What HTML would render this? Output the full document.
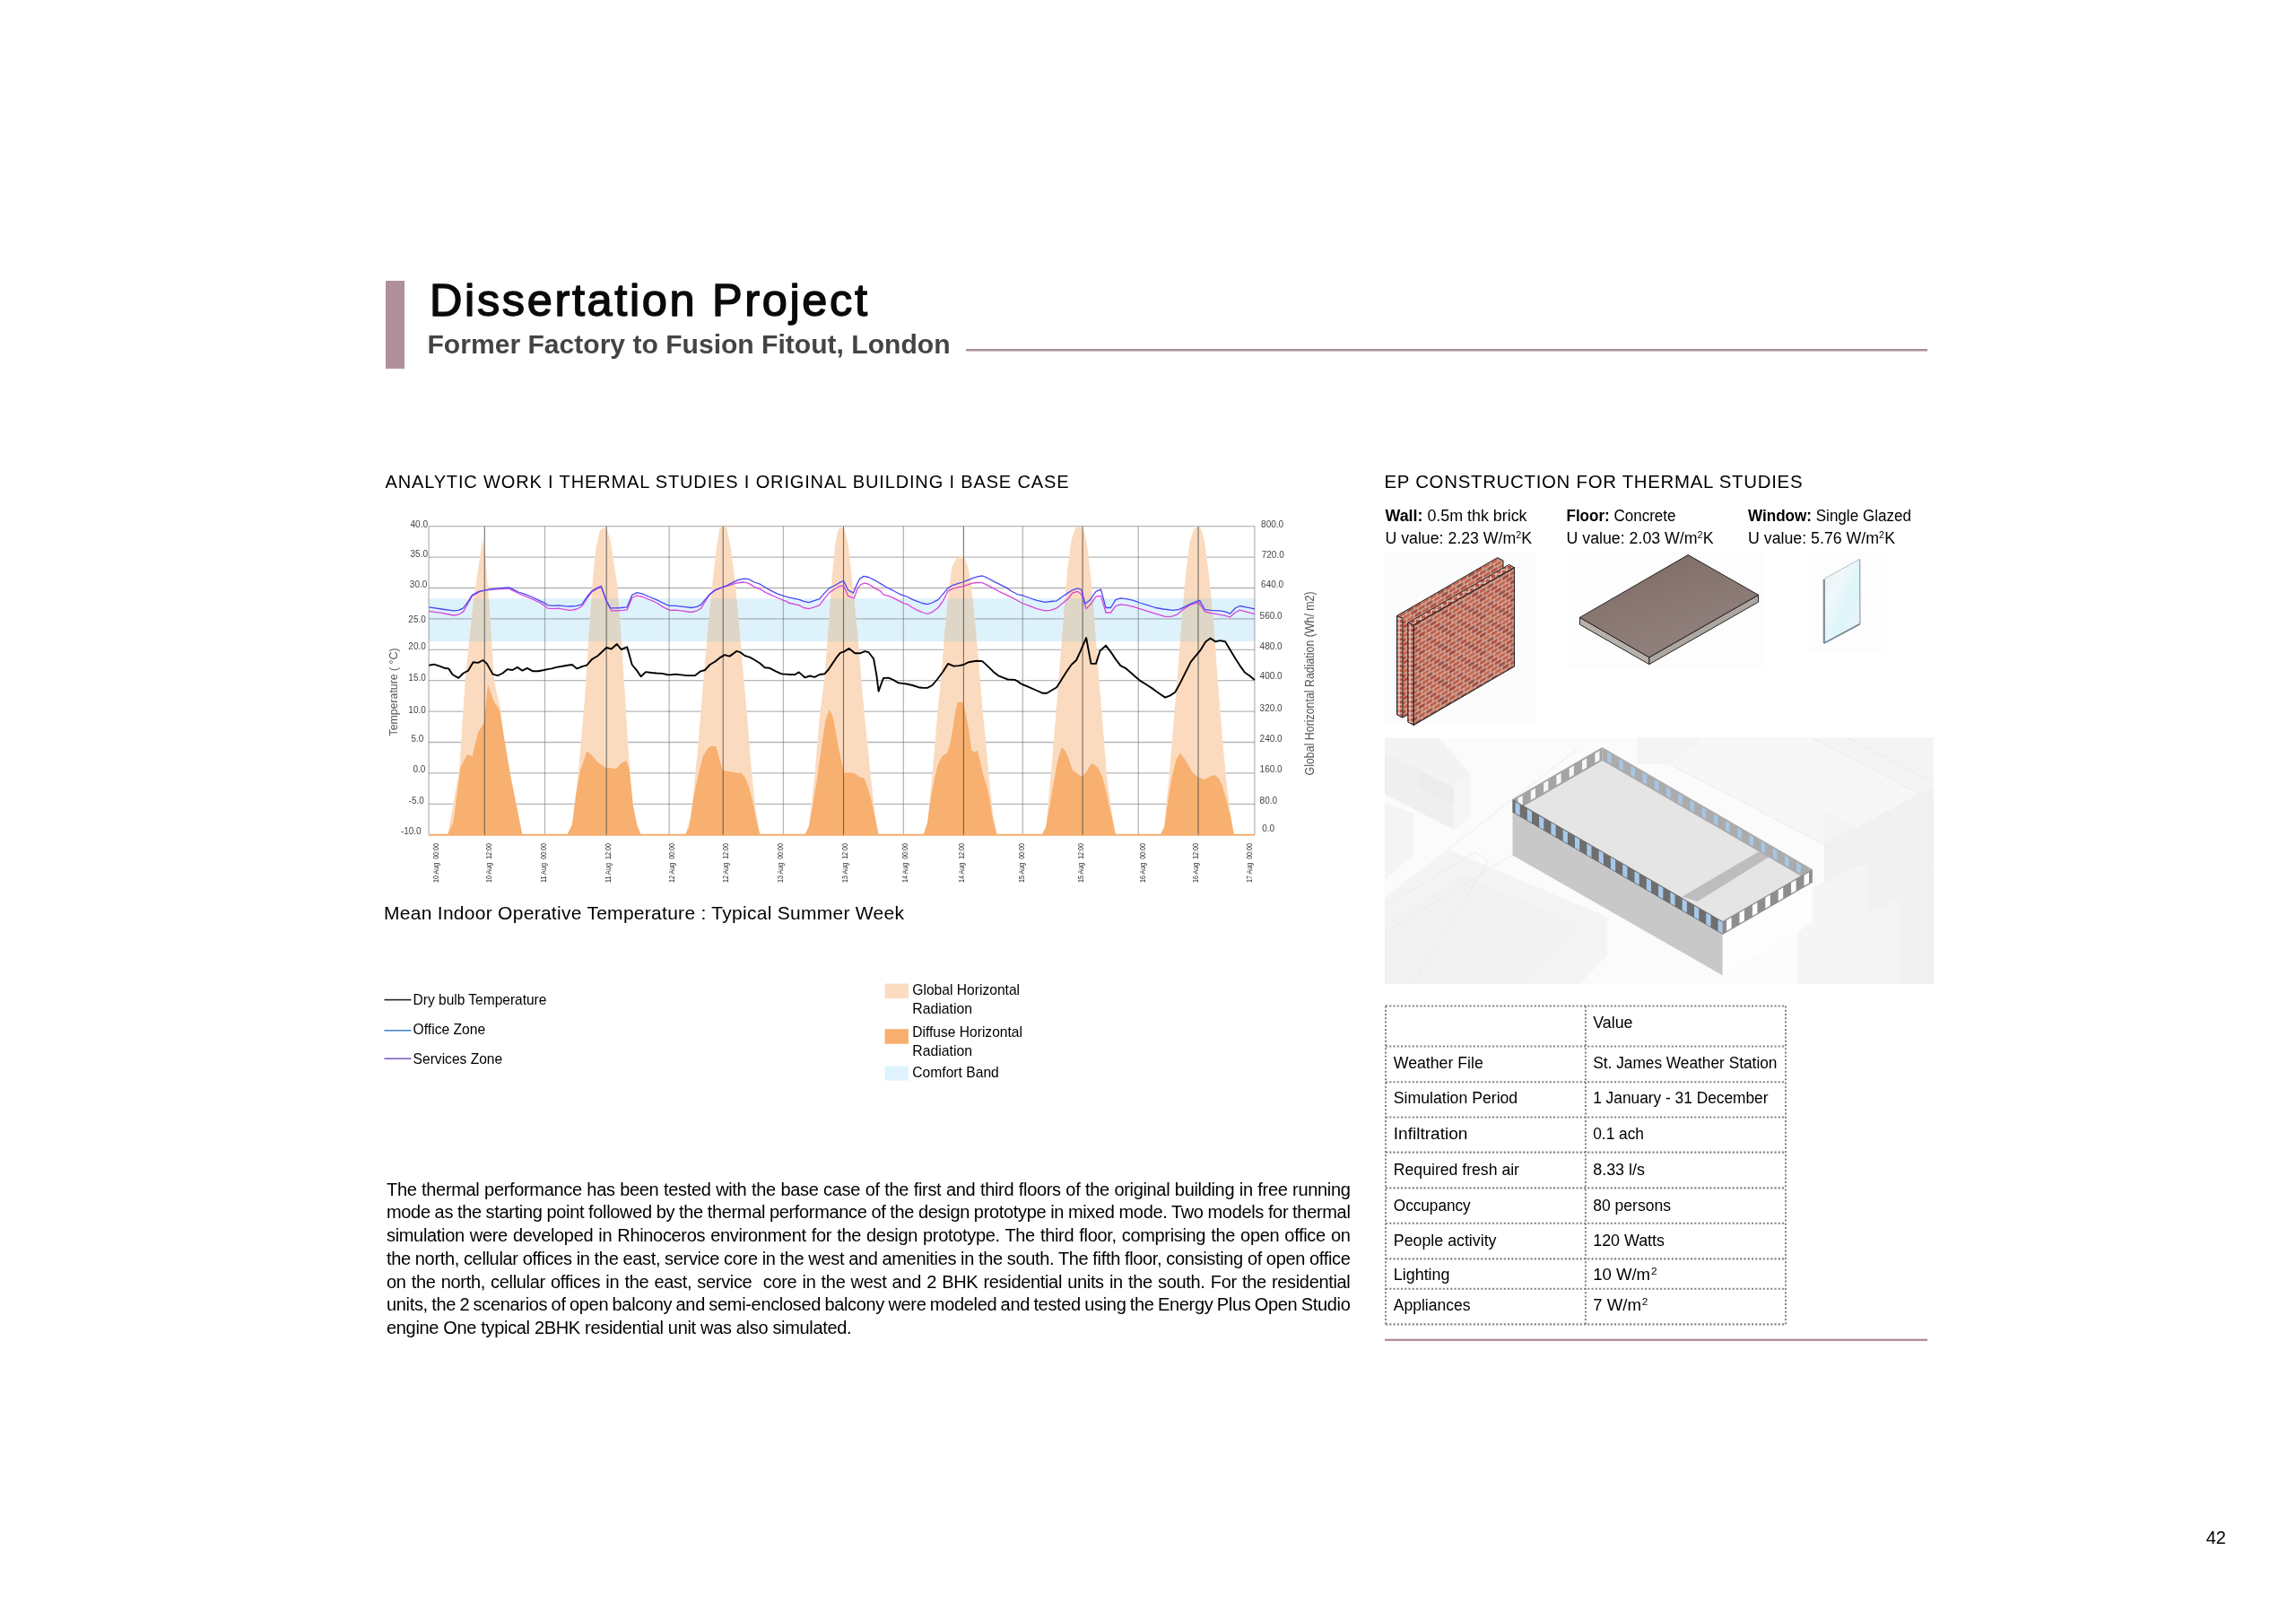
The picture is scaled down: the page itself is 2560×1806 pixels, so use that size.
<!DOCTYPE html>
<html><head><meta charset="utf-8"><title>Dissertation Project</title>
<style>
html,body{margin:0;padding:0;background:#fff;}
body{width:2560px;height:1806px;position:relative;overflow:hidden;font-family:"Liberation Sans",sans-serif;}
svg{position:absolute;left:0;top:0;will-change:transform;}
svg text{font-family:"Liberation Sans",sans-serif;}
.pl{will-change:transform;position:absolute;left:430.5px;width:1074.5px;font-size:20px;line-height:23px;height:23px;color:#000;white-space:nowrap;text-align:justify;text-align-last:justify;letter-spacing:-0.33px;}
.pl.last{text-align-last:left;}
</style></head>
<body>
<svg width="2560" height="1806" viewBox="0 0 2560 1806">
<rect x="430" y="313" width="21" height="98" fill="#B0909D"/>
<text x="479" y="352.3" font-size="50.5" fill="#0a0a0a" stroke="#0a0a0a" stroke-width="1.5" stroke-linejoin="round" textLength="488" lengthAdjust="spacing">Dissertation Project</text>
<text x="476.5" y="394.3" font-size="29" fill="#444" font-weight="bold" textLength="583" lengthAdjust="spacingAndGlyphs" >Former Factory to Fusion Fitout, London</text>
<rect x="1077" y="389" width="1072" height="2.5" fill="#A8909A"/>
<text x="429.5" y="544" font-size="20" fill="#000" textLength="762" lengthAdjust="spacing" >ANALYTIC WORK I THERMAL STUDIES I ORIGINAL BUILDING I BASE CASE</text>
<text x="1543.5" y="544.3" font-size="20.4" fill="#000" textLength="466" lengthAdjust="spacing" >EP CONSTRUCTION FOR THERMAL STUDIES</text>
<text x="1544.5" y="580.8" font-size="18" fill="#000" textLength="158.0" lengthAdjust="spacingAndGlyphs"><tspan font-weight="bold">Wall:</tspan> 0.5m thk brick</text>
<text x="1746.5" y="580.8" font-size="18" fill="#000" textLength="122.0" lengthAdjust="spacingAndGlyphs"><tspan font-weight="bold">Floor:</tspan> Concrete</text>
<text x="1949" y="580.8" font-size="18" fill="#000" textLength="182" lengthAdjust="spacingAndGlyphs"><tspan font-weight="bold">Window:</tspan> Single Glazed</text>
<text x="1544.5" y="606" font-size="18" fill="#000" textLength="163.5" lengthAdjust="spacingAndGlyphs">U value: 2.23 W/m<tspan font-size="11" dy="-6">2</tspan><tspan dy="6">K</tspan></text>
<text x="1746.5" y="606" font-size="18" fill="#000" textLength="164.0" lengthAdjust="spacingAndGlyphs">U value: 2.03 W/m<tspan font-size="11" dy="-6">2</tspan><tspan dy="6">K</tspan></text>
<text x="1949" y="606" font-size="18" fill="#000" textLength="164" lengthAdjust="spacingAndGlyphs">U value: 5.76 W/m<tspan font-size="11" dy="-6">2</tspan><tspan dy="6">K</tspan></text>
<defs>
<clipPath id="peachclip"><polygon points="499.1,930.6 512.2,858.3 518.8,755.3 528.2,667.6 534.6,623.8 538.5,600.8 540.7,615.1 545.1,667.6 550.6,755.3 553.9,772.8 558.3,790.3 561.5,821.0 569.2,864.8 575.8,897.7 582.4,930.6"/><polygon points="632.4,930.6 637.9,919.6 645.5,853.9 652.1,777.2 656.5,711.5 660.9,645.7 664.2,612.9 668.5,592.1 672.9,588.8 676.2,588.8 680.6,601.9 683.9,623.8 688.3,652.3 692.6,711.5 697.0,777.2 701.4,847.3 705.8,897.7 710.2,919.6 714.6,930.6"/><polygon points="764.1,930.6 770.7,908.7 778.3,832.0 784.9,750.9 789.3,700.5 794.8,645.7 799.2,608.5 802.4,588.8 805.7,586.6 810.1,587.7 814.5,608.5 818.9,641.3 823.3,689.6 827.6,737.8 833.1,799.1 837.5,853.9 841.9,897.7 847.4,930.6"/><polygon points="897.4,930.6 901.8,921.8 908.3,864.8 913.8,799.1 919.3,755.3 923.7,700.5 927.4,645.7 931.3,606.3 934.6,589.9 937.9,587.7 941.2,588.8 945.6,606.3 948.9,634.8 953.3,678.6 957.6,722.4 962.0,777.2 966.4,821.0 970.8,864.8 975.2,904.3 979.6,930.6"/><polygon points="1029.6,930.6 1034.0,917.4 1039.4,864.8 1044.9,799.1 1049.3,755.3 1053.7,700.5 1058.1,656.7 1061.3,632.6 1065.7,623.8 1070.1,619.4 1074.5,620.5 1078.9,630.4 1082.2,645.7 1086.5,689.6 1090.9,733.4 1095.3,788.2 1099.7,832.0 1103.0,869.2 1107.4,908.7 1111.7,930.6"/><polygon points="1161.8,930.6 1166.2,921.8 1171.6,864.8 1177.1,799.1 1181.5,744.3 1185.9,689.6 1190.3,634.8 1194.6,601.9 1199.0,588.8 1204.5,586.6 1208.9,592.1 1212.2,608.5 1216.5,645.7 1220.9,700.5 1225.3,755.3 1229.7,810.1 1234.1,864.8 1238.5,897.7 1243.9,930.6"/><polygon points="1293.8,930.6 1298.2,921.8 1303.6,864.8 1309.1,799.1 1313.5,744.3 1317.9,689.6 1322.3,637.0 1326.6,604.1 1331.0,589.9 1336.5,586.6 1339.8,591.0 1343.1,604.1 1346.4,628.2 1349.6,656.7 1354.0,707.1 1358.4,766.2 1362.8,821.0 1367.2,869.2 1371.6,904.3 1375.9,930.6"/></clipPath>
</defs>
<rect x="478.1" y="667.2" width="920.8" height="48.0" fill="#DEF2FC"/>
<g stroke="rgb(95,95,95)" stroke-opacity="0.45" stroke-width="1.3"><line x1="478.1" y1="586.7" x2="1398.9" y2="586.7"/><line x1="478.1" y1="621.1" x2="1398.9" y2="621.1"/><line x1="478.1" y1="655.5" x2="1398.9" y2="655.5"/><line x1="478.1" y1="689.9" x2="1398.9" y2="689.9"/><line x1="478.1" y1="724.3" x2="1398.9" y2="724.3"/><line x1="478.1" y1="758.7" x2="1398.9" y2="758.7"/><line x1="478.1" y1="793.1" x2="1398.9" y2="793.1"/><line x1="478.1" y1="827.5" x2="1398.9" y2="827.5"/><line x1="478.1" y1="861.9" x2="1398.9" y2="861.9"/><line x1="478.1" y1="896.3" x2="1398.9" y2="896.3"/><line x1="478.1" y1="930.7" x2="1398.9" y2="930.7"/><line x1="478.1" y1="586.7" x2="478.1" y2="930.7"/><line x1="607.5" y1="586.7" x2="607.5" y2="930.7"/><line x1="746.1" y1="586.7" x2="746.1" y2="930.7"/><line x1="873.4" y1="586.7" x2="873.4" y2="930.7"/><line x1="1007.3" y1="586.7" x2="1007.3" y2="930.7"/><line x1="1140.3" y1="586.7" x2="1140.3" y2="930.7"/><line x1="1269.2" y1="586.7" x2="1269.2" y2="930.7"/><line x1="1398.9" y1="586.7" x2="1398.9" y2="930.7"/></g>
<polygon points="499.1,930.6 512.2,858.3 518.8,755.3 528.2,667.6 534.6,623.8 538.5,600.8 540.7,615.1 545.1,667.6 550.6,755.3 553.9,772.8 558.3,790.3 561.5,821.0 569.2,864.8 575.8,897.7 582.4,930.6" fill="#FBDBBF"/>
<polygon points="632.4,930.6 637.9,919.6 645.5,853.9 652.1,777.2 656.5,711.5 660.9,645.7 664.2,612.9 668.5,592.1 672.9,588.8 676.2,588.8 680.6,601.9 683.9,623.8 688.3,652.3 692.6,711.5 697.0,777.2 701.4,847.3 705.8,897.7 710.2,919.6 714.6,930.6" fill="#FBDBBF"/>
<polygon points="764.1,930.6 770.7,908.7 778.3,832.0 784.9,750.9 789.3,700.5 794.8,645.7 799.2,608.5 802.4,588.8 805.7,586.6 810.1,587.7 814.5,608.5 818.9,641.3 823.3,689.6 827.6,737.8 833.1,799.1 837.5,853.9 841.9,897.7 847.4,930.6" fill="#FBDBBF"/>
<polygon points="897.4,930.6 901.8,921.8 908.3,864.8 913.8,799.1 919.3,755.3 923.7,700.5 927.4,645.7 931.3,606.3 934.6,589.9 937.9,587.7 941.2,588.8 945.6,606.3 948.9,634.8 953.3,678.6 957.6,722.4 962.0,777.2 966.4,821.0 970.8,864.8 975.2,904.3 979.6,930.6" fill="#FBDBBF"/>
<polygon points="1029.6,930.6 1034.0,917.4 1039.4,864.8 1044.9,799.1 1049.3,755.3 1053.7,700.5 1058.1,656.7 1061.3,632.6 1065.7,623.8 1070.1,619.4 1074.5,620.5 1078.9,630.4 1082.2,645.7 1086.5,689.6 1090.9,733.4 1095.3,788.2 1099.7,832.0 1103.0,869.2 1107.4,908.7 1111.7,930.6" fill="#FBDBBF"/>
<polygon points="1161.8,930.6 1166.2,921.8 1171.6,864.8 1177.1,799.1 1181.5,744.3 1185.9,689.6 1190.3,634.8 1194.6,601.9 1199.0,588.8 1204.5,586.6 1208.9,592.1 1212.2,608.5 1216.5,645.7 1220.9,700.5 1225.3,755.3 1229.7,810.1 1234.1,864.8 1238.5,897.7 1243.9,930.6" fill="#FBDBBF"/>
<polygon points="1293.8,930.6 1298.2,921.8 1303.6,864.8 1309.1,799.1 1313.5,744.3 1317.9,689.6 1322.3,637.0 1326.6,604.1 1331.0,589.9 1336.5,586.6 1339.8,591.0 1343.1,604.1 1346.4,628.2 1349.6,656.7 1354.0,707.1 1358.4,766.2 1362.8,821.0 1367.2,869.2 1371.6,904.3 1375.9,930.6" fill="#FBDBBF"/>
<rect x="478.1" y="667.2" width="920.8" height="48.0" fill="#DED6C6" clip-path="url(#peachclip)"/>
<polygon points="499.1,930.6 505.7,915.2 513.3,856.1 521.0,840.7 526.5,842.9 533.1,816.6 539.6,805.7 544.0,763.0 550.6,781.6 557.2,792.5 562.6,825.4 569.2,864.8 575.8,897.7 582.4,930.6" fill="#F7B070"/>
<polygon points="632.4,930.6 637.9,919.6 642.2,886.7 646.6,860.5 654.3,837.4 659.8,841.8 666.3,849.5 675.1,856.1 680.6,856.1 687.2,857.2 691.5,851.7 698.1,847.7 701.4,856.1 705.8,897.7 710.2,919.6 714.6,930.6" fill="#F7B070"/>
<polygon points="764.1,930.6 768.5,921.8 772.9,891.1 778.3,864.8 783.8,842.9 789.3,834.2 792.6,832.0 798.1,832.0 801.3,842.9 805.7,858.3 810.1,859.4 815.6,860.5 821.1,861.6 826.5,861.6 830.9,867.0 835.3,878.0 839.7,895.5 843.0,913.0 847.4,930.6" fill="#F7B070"/>
<polygon points="897.4,930.6 901.8,921.8 906.2,897.7 911.6,864.8 916.0,832.0 920.4,803.5 924.3,791.4 928.1,796.9 931.3,812.3 934.6,832.0 937.9,847.3 941.2,861.6 945.6,861.6 952.2,861.6 956.5,864.8 959.8,867.0 963.1,867.0 967.5,878.0 971.9,893.3 976.3,915.2 979.6,930.6" fill="#F7B070"/>
<polygon points="1029.6,930.6 1034.0,917.4 1038.3,886.7 1042.7,864.8 1046.0,851.7 1050.4,842.9 1055.9,839.6 1059.2,829.8 1062.4,812.3 1065.7,790.3 1067.9,782.7 1073.4,782.7 1076.7,794.7 1080.0,812.3 1083.3,836.4 1086.5,838.5 1089.8,836.4 1093.1,849.5 1096.4,864.8 1100.8,878.0 1104.1,895.5 1107.4,915.2 1111.7,930.6" fill="#F7B070"/>
<polygon points="1161.8,930.6 1166.2,921.8 1170.5,897.7 1174.9,871.4 1179.3,847.3 1183.7,833.1 1188.1,837.4 1191.3,845.1 1195.7,858.3 1201.2,862.6 1206.7,865.9 1211.1,860.5 1216.5,851.7 1219.8,852.3 1224.2,856.1 1228.6,864.8 1231.9,875.8 1235.2,891.1 1239.6,910.9 1243.9,930.6" fill="#F7B070"/>
<polygon points="1293.8,930.6 1298.2,921.8 1302.5,891.1 1306.9,864.8 1311.3,847.3 1315.7,839.6 1320.1,845.1 1324.4,851.7 1329.9,861.6 1335.4,865.9 1343.1,869.2 1348.5,865.9 1354.0,863.7 1358.4,867.0 1362.8,875.8 1367.2,891.1 1371.6,908.7 1375.9,930.6" fill="#F7B070"/>
<line x1="478.1" y1="930.7" x2="1398.9" y2="930.7" stroke="#F7B070" stroke-width="2"/>
<line x1="540.3" y1="586.7" x2="540.3" y2="930.7" stroke="rgb(70,70,70)" stroke-opacity="0.75" stroke-width="1.1"/>
<line x1="676.2" y1="586.7" x2="676.2" y2="930.7" stroke="rgb(70,70,70)" stroke-opacity="0.75" stroke-width="1.1"/>
<line x1="806.2" y1="586.7" x2="806.2" y2="930.7" stroke="rgb(70,70,70)" stroke-opacity="0.75" stroke-width="1.1"/>
<line x1="940.5" y1="586.7" x2="940.5" y2="930.7" stroke="rgb(70,70,70)" stroke-opacity="0.75" stroke-width="1.1"/>
<line x1="1074.4" y1="586.7" x2="1074.4" y2="930.7" stroke="rgb(70,70,70)" stroke-opacity="0.75" stroke-width="1.1"/>
<line x1="1207.1" y1="586.7" x2="1207.1" y2="930.7" stroke="rgb(70,70,70)" stroke-opacity="0.75" stroke-width="1.1"/>
<line x1="1336.0" y1="586.7" x2="1336.0" y2="930.7" stroke="rgb(70,70,70)" stroke-opacity="0.75" stroke-width="1.1"/>
<polyline points="478.3,681.4 492.5,683.4 505.7,686.0 511.2,685.2 516.6,681.9 521.0,674.2 526.5,664.4 534.2,660.0 540.7,658.0 549.5,657.1 558.3,656.7 567.0,656.0 571.4,658.2 578.0,661.5 584.6,664.4 593.3,667.6 602.1,672.0 608.7,676.4 610.5,678.2 616.0,678.6 622.5,678.2 629.1,679.3 635.7,680.4 643.3,679.0 648.8,676.0 654.3,667.6 659.8,660.0 665.3,656.7 670.3,654.5 676.2,670.9 681.7,680.8 688.3,680.8 694.8,680.4 699.2,679.9 704.7,666.5 710.2,663.9 716.7,665.5 724.4,668.7 732.1,672.0 738.7,676.4 743.3,678.6 746.6,680.4 753.1,680.1 761.9,681.2 770.7,682.5 777.2,680.8 781.6,678.2 786.0,670.9 791.5,662.8 798.1,657.8 805.7,654.9 812.3,653.0 818.9,650.6 824.4,649.5 829.8,649.0 835.3,650.6 840.8,654.1 847.4,656.7 853.9,660.6 860.5,663.7 867.1,666.5 873.7,669.4 876.6,670.1 878.8,672.0 890.8,674.7 896.3,677.5 901.8,678.6 907.2,677.1 913.8,674.7 919.3,667.2 924.8,660.6 930.3,656.7 935.7,653.8 940.6,652.7 945.6,664.4 952.2,667.0 956.5,655.6 959.8,651.6 963.8,650.1 968.6,651.2 975.2,655.6 981.7,658.9 985.0,662.8 990.5,664.4 997.1,667.2 1001.5,669.4 1004.4,670.9 1006.6,672.0 1012.1,673.8 1017.5,677.5 1024.1,680.8 1029.6,683.0 1034.0,684.5 1039.4,682.3 1046.0,677.5 1051.5,669.8 1057.0,658.9 1062.4,656.2 1067.9,654.9 1073.4,653.8 1078.9,651.9 1084.4,650.1 1089.8,649.5 1095.3,649.7 1100.8,652.3 1107.4,655.6 1113.9,659.3 1121.6,662.8 1128.2,666.1 1134.8,669.8 1138.8,672.0 1147.5,675.3 1156.3,678.6 1165.1,680.8 1171.6,680.4 1178.2,677.9 1184.8,672.5 1191.3,667.0 1195.7,661.1 1201.2,659.3 1205.6,662.2 1211.1,678.6 1216.5,673.1 1222.0,665.0 1227.5,664.4 1233.0,683.0 1238.5,683.0 1243.9,675.7 1249.4,673.8 1256.0,674.7 1263.7,676.4 1270.8,678.6 1279.5,681.4 1288.3,684.1 1299.2,687.4 1305.8,687.4 1312.4,685.2 1320.1,678.6 1327.7,674.2 1333.2,672.5 1336.5,671.6 1343.5,681.9 1349.6,683.4 1359.5,685.2 1366.1,686.3 1371.6,687.8 1377.0,683.0 1382.5,680.1 1389.1,681.9 1395.7,683.6 1398.9,684.7" fill="none" stroke="#D646DA" stroke-width="1.3" stroke-linejoin="round"/>
<polyline points="478.3,676.8 492.5,679.0 505.7,680.8 511.2,680.4 516.6,677.9 521.0,672.0 526.5,663.3 534.2,659.3 540.7,657.8 549.5,656.7 558.3,655.6 567.0,654.9 571.4,656.7 578.0,660.0 584.6,662.2 593.3,665.5 602.1,669.8 608.7,673.1 610.5,674.7 616.0,675.3 622.5,674.9 629.1,675.7 635.7,676.0 643.3,675.3 648.8,673.8 654.3,665.5 659.8,658.9 665.3,655.6 670.3,653.4 676.2,669.8 680.6,677.9 686.1,677.9 692.6,677.5 699.2,676.8 704.7,663.3 710.2,660.6 716.7,662.2 724.4,665.5 732.1,668.7 738.7,672.0 743.3,674.2 746.6,675.3 753.1,675.3 761.9,676.4 770.7,677.5 777.2,676.4 781.6,674.2 786.0,668.7 791.5,662.2 798.1,657.1 805.7,654.5 812.3,651.9 818.9,648.4 824.4,646.2 829.8,645.1 835.3,645.7 840.8,649.0 847.4,651.2 853.9,655.2 860.5,658.9 867.1,662.2 873.7,664.4 876.6,665.2 878.8,665.9 890.8,668.3 896.3,670.3 901.8,671.6 907.2,669.8 913.8,667.6 919.3,661.1 924.8,655.6 930.3,653.0 935.7,649.7 940.6,647.5 945.6,657.8 951.5,661.1 955.5,651.2 958.7,645.1 963.1,642.4 968.6,643.5 975.2,646.8 981.7,650.6 988.3,654.5 994.9,657.8 1001.5,661.5 1004.4,662.8 1006.6,663.7 1012.1,665.5 1017.5,668.3 1024.1,670.9 1028.5,672.5 1034.0,673.6 1039.4,672.0 1046.0,668.7 1051.5,662.2 1057.0,655.6 1062.4,652.3 1067.9,650.6 1073.4,649.0 1078.9,646.8 1084.4,644.6 1089.8,642.9 1095.3,642.0 1100.8,644.2 1107.4,647.9 1113.9,651.2 1121.6,654.9 1128.2,659.3 1134.8,662.8 1138.8,663.3 1147.5,666.5 1156.3,669.4 1165.1,671.4 1171.6,670.5 1178.2,669.8 1184.8,665.0 1191.3,660.6 1195.7,657.8 1201.2,655.8 1205.6,657.1 1210.0,673.1 1215.5,668.7 1222.0,659.3 1227.5,657.1 1233.0,677.5 1238.5,677.5 1243.9,668.7 1249.4,666.8 1256.0,667.6 1263.7,669.4 1270.8,672.0 1279.5,674.7 1288.3,677.5 1297.1,679.0 1308.0,680.4 1314.6,679.3 1321.2,676.4 1327.7,673.1 1333.2,670.9 1337.6,669.4 1343.5,679.7 1349.6,680.4 1359.5,680.8 1366.1,681.9 1371.6,684.1 1377.0,678.2 1382.5,675.5 1389.1,676.8 1395.7,678.2 1398.9,679.0" fill="none" stroke="#4848F2" stroke-width="1.3" stroke-linejoin="round"/>
<polyline points="478.3,741.7 483.8,740.6 490.3,742.6 495.8,744.8 500.2,745.4 504.6,752.0 511.2,755.9 516.6,750.5 522.1,747.6 527.6,738.2 533.1,738.9 538.5,736.0 542.9,739.9 549.5,751.6 555.0,753.1 560.5,750.5 565.9,746.1 571.4,747.0 576.9,743.9 582.4,747.6 587.8,744.8 594.4,748.3 599.9,748.3 606.5,747.0 610.5,746.1 614.9,745.4 620.3,743.9 626.9,742.8 632.4,741.7 637.9,741.0 643.3,745.4 648.8,743.2 654.3,741.7 659.8,735.1 666.3,731.2 670.7,727.2 676.2,722.0 681.7,723.5 687.8,718.0 692.6,724.0 699.2,721.3 704.7,741.0 710.2,747.6 714.6,754.2 720.0,749.1 726.6,750.0 732.1,750.5 738.7,750.9 743.3,752.0 746.6,752.4 753.1,751.6 759.7,752.4 766.3,753.1 775.1,753.1 780.5,748.7 786.0,747.0 791.5,741.0 797.0,737.8 802.4,733.4 807.9,730.1 813.4,731.6 817.8,728.6 821.1,725.9 825.5,727.2 830.9,731.2 836.4,732.9 841.9,736.0 847.4,739.5 852.8,744.3 858.3,744.8 864.9,748.3 870.4,750.9 873.7,751.6 876.6,751.6 881.0,752.0 886.4,752.0 890.8,749.4 894.1,752.4 897.4,755.3 902.9,753.5 908.3,754.8 913.8,752.0 919.3,751.3 923.7,746.5 928.1,739.9 932.4,733.4 936.8,727.9 941.2,726.4 946.7,722.9 953.3,728.3 958.7,728.3 964.2,726.1 968.6,727.2 974.1,734.5 977.4,753.1 979.6,770.6 985.0,755.9 990.5,755.7 996.0,757.9 1001.5,761.2 1004.4,761.6 1011.0,762.5 1017.5,764.0 1024.1,766.2 1028.5,766.7 1034.0,766.9 1039.4,764.0 1044.9,757.5 1051.5,748.7 1057.0,739.9 1063.5,742.6 1069.0,742.1 1074.5,741.0 1080.0,738.2 1085.5,737.3 1089.8,736.7 1095.3,737.1 1100.8,742.1 1107.4,748.7 1112.8,753.1 1118.3,755.3 1123.8,757.5 1131.5,757.9 1135.8,760.1 1136.6,761.2 1139.9,763.0 1147.5,766.2 1155.2,769.5 1162.9,772.8 1167.2,772.8 1172.7,769.5 1178.2,766.2 1183.7,757.5 1189.2,748.7 1194.6,741.0 1200.1,736.0 1204.5,726.4 1211.1,711.0 1216.5,739.9 1222.0,739.9 1226.4,725.7 1233.0,719.6 1238.5,726.8 1243.9,734.9 1249.4,742.1 1254.9,744.8 1261.5,750.5 1266.9,755.3 1270.8,758.6 1279.5,764.0 1286.1,768.4 1293.8,773.9 1299.2,777.6 1304.7,775.4 1310.2,771.7 1315.7,761.9 1321.2,750.9 1327.7,737.8 1333.2,731.2 1338.7,724.6 1344.2,715.4 1349.6,711.5 1355.1,715.2 1360.6,714.1 1366.1,715.2 1371.6,724.6 1377.0,733.4 1382.5,742.1 1388.0,749.8 1393.5,753.5 1398.9,757.9" fill="none" stroke="#000" stroke-width="1.9" stroke-linejoin="round"/>
<text x="477.0" y="587.5" font-size="10" fill="#444" text-anchor="end" >40.0</text>
<text x="477.0" y="621.2" font-size="10" fill="#444" text-anchor="end" >35.0</text>
<text x="476.3" y="654.6" font-size="10" fill="#444" text-anchor="end" >30.0</text>
<text x="474.8" y="693.8" font-size="10" fill="#444" text-anchor="end" >25.0</text>
<text x="474.8" y="724.3" font-size="10" fill="#444" text-anchor="end" >20.0</text>
<text x="474.8" y="758.9" font-size="10" fill="#444" text-anchor="end" >15.0</text>
<text x="474.8" y="795.3" font-size="10" fill="#444" text-anchor="end" >10.0</text>
<text x="472.3" y="826.7" font-size="10" fill="#444" text-anchor="end" >5.0</text>
<text x="474.3" y="860.5" font-size="10" fill="#444" text-anchor="end" >0.0</text>
<text x="472.8" y="895.7" font-size="10" fill="#444" text-anchor="end" >-5.0</text>
<text x="469.7" y="930.3" font-size="10" fill="#444" text-anchor="end" >-10.0</text>
<text x="1406.1000000000001" y="587.6" font-size="10" fill="#444" >800.0</text>
<text x="1406.7" y="622.2" font-size="10" fill="#444" >720.0</text>
<text x="1406.1000000000001" y="654.5" font-size="10" fill="#444" >640.0</text>
<text x="1404.6000000000001" y="689.6" font-size="10" fill="#444" >560.0</text>
<text x="1404.6000000000001" y="723.7" font-size="10" fill="#444" >480.0</text>
<text x="1404.6000000000001" y="756.5" font-size="10" fill="#444" >400.0</text>
<text x="1404.6000000000001" y="792.5" font-size="10" fill="#444" >320.0</text>
<text x="1404.6000000000001" y="827" font-size="10" fill="#444" >240.0</text>
<text x="1404.6000000000001" y="861" font-size="10" fill="#444" >160.0</text>
<text x="1404.6000000000001" y="895.5" font-size="10" fill="#444" >80.0</text>
<text x="1407.2" y="927.3" font-size="10" fill="#444" >0.0</text>
<text transform="translate(442.6,820.5) rotate(-90)" font-size="13" fill="#555" textLength="98" lengthAdjust="spacingAndGlyphs">Temperature ( °C)</text>
<text transform="translate(1464.8,864.4) rotate(-90)" font-size="14" fill="#555" textLength="205" lengthAdjust="spacingAndGlyphs">Global Horizontal Radiation (Wh/ m2)</text>
<text transform="translate(488.5,984) rotate(-90)" font-size="9.3" fill="#2a2a2a" style="white-space:pre" textLength="44" lengthAdjust="spacingAndGlyphs">10 Aug  00:00</text>
<text transform="translate(547.6,984) rotate(-90)" font-size="9.3" fill="#2a2a2a" style="white-space:pre" textLength="44" lengthAdjust="spacingAndGlyphs">10 Aug  12:00</text>
<text transform="translate(608.9,984) rotate(-90)" font-size="9.3" fill="#2a2a2a" style="white-space:pre" textLength="44" lengthAdjust="spacingAndGlyphs">11 Aug  00:00</text>
<text transform="translate(681.0,984) rotate(-90)" font-size="9.3" fill="#2a2a2a" style="white-space:pre" textLength="44" lengthAdjust="spacingAndGlyphs">11 Aug  12:00</text>
<text transform="translate(751.5,984) rotate(-90)" font-size="9.3" fill="#2a2a2a" style="white-space:pre" textLength="44" lengthAdjust="spacingAndGlyphs">12 Aug  00:00</text>
<text transform="translate(812.1,984) rotate(-90)" font-size="9.3" fill="#2a2a2a" style="white-space:pre" textLength="44" lengthAdjust="spacingAndGlyphs">12 Aug  12:00</text>
<text transform="translate(872.7,984) rotate(-90)" font-size="9.3" fill="#2a2a2a" style="white-space:pre" textLength="44" lengthAdjust="spacingAndGlyphs">13 Aug  00:00</text>
<text transform="translate(944.9,984) rotate(-90)" font-size="9.3" fill="#2a2a2a" style="white-space:pre" textLength="44" lengthAdjust="spacingAndGlyphs">13 Aug  12:00</text>
<text transform="translate(1012.4,984) rotate(-90)" font-size="9.3" fill="#2a2a2a" style="white-space:pre" textLength="44" lengthAdjust="spacingAndGlyphs">14 Aug  00:00</text>
<text transform="translate(1075.1,984) rotate(-90)" font-size="9.3" fill="#2a2a2a" style="white-space:pre" textLength="44" lengthAdjust="spacingAndGlyphs">14 Aug  12:00</text>
<text transform="translate(1142.0,984) rotate(-90)" font-size="9.3" fill="#2a2a2a" style="white-space:pre" textLength="44" lengthAdjust="spacingAndGlyphs">15 Aug  00:00</text>
<text transform="translate(1207.9,984) rotate(-90)" font-size="9.3" fill="#2a2a2a" style="white-space:pre" textLength="44" lengthAdjust="spacingAndGlyphs">15 Aug  12:00</text>
<text transform="translate(1276.9,984) rotate(-90)" font-size="9.3" fill="#2a2a2a" style="white-space:pre" textLength="44" lengthAdjust="spacingAndGlyphs">16 Aug  00:00</text>
<text transform="translate(1336.4,984) rotate(-90)" font-size="9.3" fill="#2a2a2a" style="white-space:pre" textLength="44" lengthAdjust="spacingAndGlyphs">16 Aug  12:00</text>
<text transform="translate(1396.0,984) rotate(-90)" font-size="9.3" fill="#2a2a2a" style="white-space:pre" textLength="44" lengthAdjust="spacingAndGlyphs">17 Aug  00:00</text>
<text x="428" y="1024.6" font-size="21" fill="#000" textLength="580" lengthAdjust="spacing" >Mean Indoor Operative Temperature : Typical Summer Week</text>
<line x1="428.5" y1="1114.6" x2="458.5" y2="1114.6" stroke="#222" stroke-width="1.6"/>
<text x="460.6" y="1120" font-size="17" fill="#000" textLength="148.8" lengthAdjust="spacingAndGlyphs" >Dry bulb Temperature</text>
<line x1="428.5" y1="1148.8" x2="458.5" y2="1148.8" stroke="#4A88D0" stroke-width="1.6"/>
<text x="460.6" y="1153.1" font-size="17" fill="#000" textLength="80.6" lengthAdjust="spacingAndGlyphs" >Office Zone</text>
<line x1="428.5" y1="1180.2" x2="458.5" y2="1180.2" stroke="#8060C0" stroke-width="1.6"/>
<text x="460.6" y="1186" font-size="17" fill="#000" textLength="99.6" lengthAdjust="spacingAndGlyphs" >Services Zone</text>
<rect x="986.6" y="1096.6" width="26.3" height="16.5" fill="#FCDCC0"/>
<rect x="986.6" y="1147.2" width="26.3" height="16.5" fill="#F8AE6E"/>
<rect x="986.6" y="1188.5" width="26.3" height="16.1" fill="#DEF3FD"/>
<text x="1017.3" y="1109.1" font-size="17" fill="#000" textLength="119.8" lengthAdjust="spacingAndGlyphs" >Global Horizontal</text>
<text x="1017.3" y="1130" font-size="17" fill="#000" textLength="66.8" lengthAdjust="spacingAndGlyphs" >Radiation</text>
<text x="1017.3" y="1156" font-size="17" fill="#000" textLength="122.6" lengthAdjust="spacingAndGlyphs" >Diffuse Horizontal</text>
<text x="1017.3" y="1176.9" font-size="17" fill="#000" textLength="66.8" lengthAdjust="spacingAndGlyphs" >Radiation</text>
<text x="1017.3" y="1201.4" font-size="17" fill="#000" textLength="96.5" lengthAdjust="spacingAndGlyphs" >Comfort Band</text>
<text x="2459.7" y="1720.8" font-size="20" fill="#000" >42</text>
<rect x="1544" y="1492.6" width="605" height="2.3" fill="#B08A98"/>
<defs>
<pattern id="brick" patternUnits="userSpaceOnUse" width="34" height="20" patternTransform="skewY(-30)">
<rect width="34" height="20" fill="#DAD2CC"/>
<rect x="0.5" y="0.5" width="7.6" height="4.0" fill="#B24D3D"/>
<rect x="9" y="0.5" width="7.6" height="4.0" fill="#C4644C"/>
<rect x="17.5" y="0.5" width="7.6" height="4.0" fill="#A5493C"/>
<rect x="26" y="0.5" width="7.6" height="4.0" fill="#BB5A45"/>
<rect x="-3.75" y="5.5" width="7.6" height="4.0" fill="#C06049"/>
<rect x="4.75" y="5.5" width="7.6" height="4.0" fill="#9C5347"/>
<rect x="13.25" y="5.5" width="7.6" height="4.0" fill="#B8533F"/>
<rect x="21.75" y="5.5" width="7.6" height="4.0" fill="#C96A50"/>
<rect x="30.25" y="5.5" width="7.6" height="4.0" fill="#C06049"/>
<rect x="0.5" y="10.5" width="7.6" height="4.0" fill="#C3634B"/>
<rect x="9" y="10.5" width="7.6" height="4.0" fill="#A94B3D"/>
<rect x="17.5" y="10.5" width="7.6" height="4.0" fill="#B95C46"/>
<rect x="26" y="10.5" width="7.6" height="4.0" fill="#A0574A"/>
<rect x="-3.75" y="15.5" width="7.6" height="4.0" fill="#B4503F"/>
<rect x="4.75" y="15.5" width="7.6" height="4.0" fill="#C66750"/>
<rect x="13.25" y="15.5" width="7.6" height="4.0" fill="#AE4E3E"/>
<rect x="21.75" y="15.5" width="7.6" height="4.0" fill="#BD5E48"/>
<rect x="30.25" y="15.5" width="7.6" height="4.0" fill="#B4503F"/>
</pattern>
<pattern id="brick2" patternUnits="userSpaceOnUse" width="6" height="10">
<rect width="6" height="10" fill="#E2D9D2"/>
<rect x="0.6" y="0.6" width="4.8" height="3.9" fill="#B94E3E"/>
<rect x="0.6" y="5.6" width="4.8" height="3.9" fill="#C45C47"/>
</pattern>
<linearGradient id="slabg" x1="0.2" y1="0" x2="0.7" y2="1">
<stop offset="0" stop-color="#7E6A64"/><stop offset="0.45" stop-color="#897772"/><stop offset="1" stop-color="#92827D"/>
</linearGradient>
<linearGradient id="glass" x1="0" y1="0" x2="1" y2="1">
<stop offset="0" stop-color="#E4EAEE"/><stop offset="0.3" stop-color="#F2F8FA"/><stop offset="0.6" stop-color="#DDF5F9"/><stop offset="1" stop-color="#F0F2F8"/>
</linearGradient>
</defs>
<rect x="1544" y="615" width="168" height="193" fill="#FCFCFD"/>
<polygon points="1557.5,686.5 1669.6,621.7 1676.0,624.9 1676.0,735.0 1564.0,800.0 1557.5,796.6" fill="url(#brick)" stroke="#222" stroke-width="1.0"/>
<polygon points="1557.5,686.5 1564.0,689.0 1564.0,800.0 1557.5,796.6" fill="url(#brick2)" stroke="#222" stroke-width="1.0"/>
<polygon points="1569.8,694.3 1682.6,629.4 1688.4,632.7 1576.3,696.8" fill="url(#brick2)" stroke="#222" stroke-width="1.0"/>
<polygon points="1569.8,694.3 1576.3,696.8 1576.3,808.3 1569.8,805.0" fill="url(#brick2)" stroke="#222" stroke-width="1.0"/>
<polygon points="1576.3,696.8 1688.4,632.7 1688.4,742.9 1576.3,808.3" fill="url(#brick)" stroke="#222" stroke-width="1.1"/>
<rect x="1749" y="614" width="219" height="132" fill="#FDFDFE"/>
<polygon points="1761.4,688.4 1838.8,732.8 1838.8,740.6 1761.4,696.2" fill="#B8B0AA" stroke="#222" stroke-width="1.0"/>
<polygon points="1838.8,732.8 1960.6,663.3 1960.6,671.1 1838.8,740.6" fill="#AEA6A0" stroke="#222" stroke-width="1.0"/>
<polygon points="1761.4,688.4 1882.2,618.6 1960.6,663.3 1838.8,732.8" fill="url(#slabg)" stroke="#222" stroke-width="1.0"/>
<rect x="2016" y="616" width="88" height="110" fill="#FDFDFE"/>
<polygon points="2033.3,645.3 2073.5,623.2 2073.9,695.9 2033.3,717.5" fill="url(#glass)"/>
<line x1="2033.6" y1="645.4" x2="2073.5" y2="623.3" stroke="#B4C0C8" stroke-width="1"/>
<line x1="2073.6" y1="623.5" x2="2073.9" y2="695.6" stroke="#97A5B0" stroke-width="1.3"/>
<line x1="2033.8" y1="646" x2="2033.8" y2="717" stroke="#7E8C98" stroke-width="2.2"/>
<line x1="2033.5" y1="717.2" x2="2073.8" y2="695.6" stroke="#7E8C98" stroke-width="1.8"/>
<rect x="1544" y="822.5" width="612" height="274.5" fill="#FBFBFB"/>
<polygon points="1543.9,823.1 1604.0,823.1 1640.0,863.0 1620.9,877.5 1543.9,839.3" fill="#F3F3F3"/>
<polygon points="1543.9,839.3 1620.9,877.5 1620.9,924.7 1543.9,885.4" fill="#EFEFEF"/>
<polygon points="1620.9,877.5 1640.0,863.0 1640.0,910.1 1620.9,924.7" fill="#F6F6F6"/>
<polygon points="1582.0,860.0 1620.9,877.5 1620.9,896.0 1582.0,878.0" fill="#ECECEC"/>
<polygon points="1543.9,894.4 1576.0,906.8 1576.0,952.8 1543.9,980.9" fill="#F4F4F4"/>
<polygon points="1544.0,1000.0 1614.0,947.0 1792.0,1022.0 1792.0,1065.0 1761.0,1097.0 1544.0,1097.0" fill="#F4F4F4"/>
<polygon points="1544.0,1030.0 1630.0,975.0 1760.0,1030.0 1700.0,1097.0 1544.0,1097.0" fill="#F2F2F2"/>
<polygon points="1825.5,822.5 2155.8,822.5 2155.8,1097.0 2082.0,1097.0 2082.0,1078.0 2004.0,1041.0 2004.0,1000.0 2034.0,983.0 2034.0,941.0 1862.0,852.0 1825.5,852.0" fill="#F4F4F4"/>
<polygon points="1900.0,822.5 2020.0,822.5 2155.8,893.0 2155.8,965.0 2034.0,903.0 2034.0,941.0 1862.0,852.0" fill="#F7F7F7"/>
<polygon points="2034.0,941.0 2155.8,877.0 2155.8,1097.0 2120.0,1097.0 2120.0,1000.0 2034.0,1045.0" fill="#F1F1F1"/>
<polygon points="2004.0,1000.0 2082.0,960.0 2082.0,1097.0 2004.0,1097.0" fill="#F5F5F5"/>
<g stroke="#E9E9E9" stroke-width="0.8" fill="none"><polyline points="1613.0,948.0 1760.0,834.0"/><polyline points="1544.0,1010.0 1645.0,950.0 1660.0,960.0 1575.0,1097.0"/><polyline points="1544.0,1040.0 1686.0,953.0"/><polyline points="1862.0,852.0 2155.8,1005.0"/><polyline points="2020.0,822.5 2155.8,893.0"/><polyline points="2060.0,822.5 2155.8,872.0"/></g>
<polygon points="1920.6,1042.0 2020.6,984.0 2020.6,1029.0 1920.6,1087.4" fill="#FDFDFD"/>
<polygon points="1686.5,906.0 1786.5,848.0 2020.6,984.0 1920.6,1042.0" fill="#E5E5E5"/>
<polygon points="1875.6,999.5 1892.4,1005.1 1973.2,955.0 1960.7,949.4" fill="#BDBDBD"/>
<polygon points="1686.5,891.0 1786.5,833.0 1786.5,848.0 1686.5,906.0" fill="#A4A4A4"/>
<polygon points="1692.5,889.7 1697.7,886.7 1697.7,897.2 1692.5,900.2" fill="#F4F8FA"/><polygon points="1706.8,881.4 1712.0,878.4 1712.0,888.9 1706.8,891.9" fill="#F4F8FA"/><polygon points="1721.1,873.1 1726.3,870.1 1726.3,880.6 1721.1,883.6" fill="#F4F8FA"/><polygon points="1735.4,864.8 1740.6,861.8 1740.6,872.3 1735.4,875.3" fill="#F4F8FA"/><polygon points="1749.7,856.5 1754.9,853.5 1754.9,864.0 1749.7,867.0" fill="#F4F8FA"/><polygon points="1764.0,848.2 1769.2,845.2 1769.2,855.7 1764.0,858.8" fill="#F4F8FA"/><polygon points="1778.3,840.0 1783.5,836.9 1783.5,847.4 1778.3,850.5" fill="#F4F8FA"/>
<polygon points="1786.5,833.0 2020.6,969.0 2020.6,984.0 1786.5,848.0" fill="#ABABAB"/>
<polygon points="1792.0,838.4 1796.6,841.1 1796.6,851.6 1792.0,848.9" fill="#A6C6E6"/><polygon points="1805.2,846.1 1809.8,848.7 1809.8,859.2 1805.2,856.6" fill="#A6C6E6"/><polygon points="1818.4,853.7 1823.0,856.4 1823.0,866.9 1818.4,864.2" fill="#A6C6E6"/><polygon points="1831.6,861.4 1836.2,864.1 1836.2,874.6 1831.6,871.9" fill="#A6C6E6"/><polygon points="1844.8,869.1 1849.4,871.7 1849.4,882.2 1844.8,879.6" fill="#A6C6E6"/><polygon points="1858.0,876.7 1862.6,879.4 1862.6,889.9 1858.0,887.2" fill="#A6C6E6"/><polygon points="1871.2,884.4 1875.8,887.1 1875.8,897.6 1871.2,894.9" fill="#A6C6E6"/><polygon points="1884.4,892.1 1889.0,894.7 1889.0,905.2 1884.4,902.6" fill="#A6C6E6"/><polygon points="1897.6,899.7 1902.2,902.4 1902.2,912.9 1897.6,910.2" fill="#A6C6E6"/><polygon points="1910.8,907.4 1915.4,910.1 1915.4,920.6 1910.8,917.9" fill="#A6C6E6"/><polygon points="1924.0,915.1 1928.6,917.8 1928.6,928.3 1924.0,925.6" fill="#A6C6E6"/><polygon points="1937.2,922.7 1941.8,925.4 1941.8,935.9 1937.2,933.2" fill="#A6C6E6"/><polygon points="1950.4,930.4 1955.0,933.1 1955.0,943.6 1950.4,940.9" fill="#A6C6E6"/><polygon points="1963.6,938.1 1968.2,940.8 1968.2,951.3 1963.6,948.6" fill="#A6C6E6"/><polygon points="1976.8,945.8 1981.4,948.4 1981.4,958.9 1976.8,956.3" fill="#A6C6E6"/><polygon points="1990.0,953.4 1994.6,956.1 1994.6,966.6 1990.0,963.9" fill="#A6C6E6"/><polygon points="2003.2,961.1 2007.8,963.8 2007.8,974.3 2003.2,971.6" fill="#A6C6E6"/><polygon points="2016.4,968.8 2021.0,971.4 2021.0,981.9 2016.4,979.3" fill="#A6C6E6"/>
<polygon points="1686.5,891.0 1920.6,1027.0 1920.6,1042.0 1686.5,906.0" fill="#6E6E6E"/>
<polygon points="1689.5,893.9 1694.7,897.0 1694.7,909.6 1689.5,906.5" fill="#A8C8EA"/><polygon points="1702.8,901.7 1708.0,904.7 1708.0,917.3 1702.8,914.3" fill="#A8C8EA"/><polygon points="1716.1,909.4 1721.3,912.4 1721.3,925.0 1716.1,922.0" fill="#A8C8EA"/><polygon points="1729.4,917.1 1734.6,920.1 1734.6,932.7 1729.4,929.7" fill="#A8C8EA"/><polygon points="1742.7,924.8 1747.9,927.9 1747.9,940.5 1742.7,937.4" fill="#A8C8EA"/><polygon points="1756.0,932.6 1761.2,935.6 1761.2,948.2 1756.0,945.2" fill="#A8C8EA"/><polygon points="1769.3,940.3 1774.5,943.3 1774.5,955.9 1769.3,952.9" fill="#A8C8EA"/><polygon points="1782.6,948.0 1787.8,951.1 1787.8,963.7 1782.6,960.6" fill="#A8C8EA"/><polygon points="1795.9,955.8 1801.1,958.8 1801.1,971.4 1795.9,968.4" fill="#A8C8EA"/><polygon points="1809.2,963.5 1814.4,966.5 1814.4,979.1 1809.2,976.1" fill="#A8C8EA"/><polygon points="1822.5,971.2 1827.7,974.2 1827.7,986.8 1822.5,983.8" fill="#A8C8EA"/><polygon points="1835.8,978.9 1841.0,982.0 1841.0,994.6 1835.8,991.5" fill="#A8C8EA"/><polygon points="1849.1,986.7 1854.3,989.7 1854.3,1002.3 1849.1,999.3" fill="#A8C8EA"/><polygon points="1862.4,994.4 1867.6,997.4 1867.6,1010.0 1862.4,1007.0" fill="#A8C8EA"/><polygon points="1875.7,1002.1 1880.9,1005.1 1880.9,1017.7 1875.7,1014.7" fill="#A8C8EA"/><polygon points="1889.0,1009.8 1894.2,1012.9 1894.2,1025.5 1889.0,1022.4" fill="#A8C8EA"/><polygon points="1902.3,1017.6 1907.5,1020.6 1907.5,1033.2 1902.3,1030.2" fill="#A8C8EA"/><polygon points="1915.6,1025.3 1920.8,1028.3 1920.8,1040.9 1915.6,1037.9" fill="#A8C8EA"/>
<polygon points="1920.6,1027.0 2020.6,969.0 2020.6,984.0 1920.6,1042.0" fill="#8E8E8E"/>
<polygon points="1925.1,1025.9 1930.6,1022.7 1930.6,1034.7 1925.1,1037.9" fill="#FFFFFF"/><polygon points="1939.5,1017.5 1945.0,1014.3 1945.0,1026.3 1939.5,1029.5" fill="#FFFFFF"/><polygon points="1953.9,1009.2 1959.4,1006.0 1959.4,1018.0 1953.9,1021.2" fill="#FFFFFF"/><polygon points="1968.3,1000.8 1973.8,997.6 1973.8,1009.6 1968.3,1012.8" fill="#FFFFFF"/><polygon points="1982.7,992.5 1988.2,989.3 1988.2,1001.3 1982.7,1004.5" fill="#FFFFFF"/><polygon points="1997.1,984.1 2002.6,980.9 2002.6,992.9 1997.1,996.1" fill="#FFFFFF"/><polygon points="2011.5,975.8 2017.0,972.6 2017.0,984.6 2011.5,987.8" fill="#FFFFFF"/>
<polygon points="1686.5,906.0 1920.6,1042.0 1920.6,1087.4 1686.5,953.4" fill="#C8C8C8"/>
<g stroke="#858585" stroke-width="2.1" stroke-dasharray="2.1 2.15"><line x1="1545.0" y1="1121.5" x2="1991.0" y2="1121.5"/><line x1="1545.0" y1="1166.5" x2="1991.0" y2="1166.5"/><line x1="1545.0" y1="1206.2" x2="1991.0" y2="1206.2"/><line x1="1545.0" y1="1245.5" x2="1991.0" y2="1245.5"/><line x1="1545.0" y1="1284.6" x2="1991.0" y2="1284.6"/><line x1="1545.0" y1="1324.4" x2="1991.0" y2="1324.4"/><line x1="1545.0" y1="1363.8" x2="1991.0" y2="1363.8"/><line x1="1545.0" y1="1403.4" x2="1991.0" y2="1403.4"/><line x1="1545.0" y1="1436.8" x2="1991.0" y2="1436.8"/><line x1="1545.0" y1="1476.4" x2="1991.0" y2="1476.4"/><line x1="1545.0" y1="1121.5" x2="1545.0" y2="1476.4"/><line x1="1767.9" y1="1121.5" x2="1767.9" y2="1476.4"/><line x1="1991.0" y1="1121.5" x2="1991.0" y2="1476.4"/></g>
<text x="1776.2" y="1146" font-size="18" fill="#000" textLength="44.3" lengthAdjust="spacingAndGlyphs">Value</text>
<text x="1553.8" y="1190.5" font-size="18" fill="#000" textLength="100.0" lengthAdjust="spacingAndGlyphs">Weather File</text>
<text x="1776.2" y="1190.5" font-size="18" fill="#000" textLength="205.3" lengthAdjust="spacingAndGlyphs">St. James Weather Station</text>
<text x="1553.8" y="1230.2" font-size="18" fill="#000" textLength="138.4" lengthAdjust="spacingAndGlyphs">Simulation Period</text>
<text x="1776.2" y="1230.2" font-size="18" fill="#000" textLength="195.3" lengthAdjust="spacingAndGlyphs">1 January - 31 December</text>
<text x="1553.8" y="1270" font-size="18" fill="#000" textLength="82.6" lengthAdjust="spacingAndGlyphs">Infiltration</text>
<text x="1776.2" y="1270" font-size="18" fill="#000" textLength="56.8" lengthAdjust="spacingAndGlyphs">0.1 ach</text>
<text x="1553.8" y="1309.7" font-size="18" fill="#000" textLength="140.2" lengthAdjust="spacingAndGlyphs">Required fresh air</text>
<text x="1776.2" y="1309.7" font-size="18" fill="#000" textLength="57.8" lengthAdjust="spacingAndGlyphs">8.33 l/s</text>
<text x="1553.8" y="1349.6" font-size="18" fill="#000" textLength="85.9" lengthAdjust="spacingAndGlyphs">Occupancy</text>
<text x="1776.2" y="1349.6" font-size="18" fill="#000" textLength="86.8" lengthAdjust="spacingAndGlyphs">80 persons</text>
<text x="1553.8" y="1388.9" font-size="18" fill="#000" textLength="114.7" lengthAdjust="spacingAndGlyphs">People activity</text>
<text x="1776.2" y="1388.9" font-size="18" fill="#000" textLength="79.8" lengthAdjust="spacingAndGlyphs">120 Watts</text>
<text x="1553.8" y="1427" font-size="18" fill="#000" textLength="62.7" lengthAdjust="spacingAndGlyphs">Lighting</text>
<text x="1776.2" y="1427" font-size="18" fill="#000" textLength="71.3" lengthAdjust="spacingAndGlyphs">10 W/m<tspan font-size="11.5" dx="0.8" dy="-6.5">2</tspan></text>
<text x="1553.8" y="1461.4" font-size="18" fill="#000" textLength="85.7" lengthAdjust="spacingAndGlyphs">Appliances</text>
<text x="1776.2" y="1461.4" font-size="18" fill="#000" textLength="61.3" lengthAdjust="spacingAndGlyphs">7 W/m<tspan font-size="11.5" dx="0.8" dy="-6.5">2</tspan></text>
</svg>
<div class="pl" style="top:1314.7px">The thermal performance has been tested with the base case of the first and third floors of the original building in free running</div><div class="pl" style="top:1340.4px;word-spacing:-0.55px">mode as the starting point followed by the thermal performance of the design prototype in mixed mode. Two models for thermal</div><div class="pl" style="top:1366.1px">simulation were developed in Rhinoceros environment for the design prototype. The third floor, comprising the open office on</div><div class="pl" style="top:1391.8px;word-spacing:-0.45px">the north, cellular offices in the east, service core in the west and amenities in the south. The fifth floor, consisting of open office</div><div class="pl" style="top:1417.5px">on the north, cellular offices in the east, service&nbsp; core in the west and 2 BHK residential units in the south. For the residential</div><div class="pl" style="top:1443.2px;word-spacing:-0.95px">units, the 2 scenarios of open balcony and semi-enclosed balcony were modeled and tested using the Energy Plus Open Studio</div><div class="pl last" style="top:1468.9px">engine One typical 2BHK residential unit was also simulated.</div>
</body></html>
